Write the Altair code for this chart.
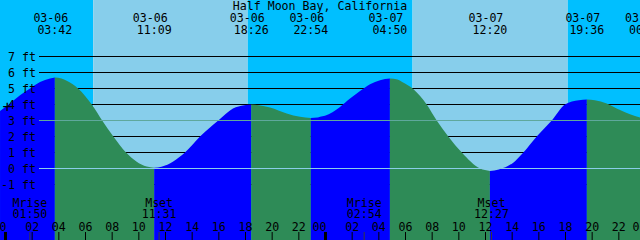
import altair as alt
import pandas as pd

TITLE = "Half Moon Bay, California"

# Tide extremes, hours counted from 03-06 00:00
ext_hours = [3.70, 11.15, 18.43, 22.90, 28.83, 36.33, 43.60, 48.08]
ext_feet = [5.69, 0.05, 4.00, 3.15, 5.62, -0.15, 4.31, 3.08]
ext_kind = ["high", "low", "high", "low", "high", "low", "high", "low"]
ext_dates = ["03-06", "03-06", "03-06", "03-06", "03-07", "03-07", "03-07", "03-08"]
ext_times = ["03:42", "11:09", "18:26", "22:54", "04:50", "12:20", "19:36", "00:05"]

# Tide height
curve_hours = [-0.41, 0.34, 1.09, 1.84, 2.59, 3.34, 4.20, 4.59, 5.44, 6.47, 7.25,
               8.09, 9.04, 10.59, 11.70, 13.46, 14.59, 15.96, 17.06, 17.90, 19.00,
               19.84, 21.09, 22.09, 23.40, 23.59, 23.96, 25.09, 25.84, 26.59, 27.34,
               28.09, 29.40, 29.75, 30.60, 31.59, 32.34, 33.21, 34.22, 35.59, 37.00,
               38.06, 38.84, 39.84, 40.97, 41.96, 43.00, 44.20, 45.09, 46.09, 47.59]
curve_feet = [3.60, 4.06, 4.58, 5.00, 5.40, 5.63, 5.63, 5.48, 5.00, 4.00, 3.00,
              2.00, 1.00, 0.12, 0.11, 1.00, 2.00, 3.00, 3.75, 3.96, 3.96,
              3.81, 3.44, 3.23, 3.18, 3.23, 3.30, 3.85, 4.37, 4.85, 5.27,
              5.52, 5.56, 5.41, 4.95, 4.00, 3.00, 2.00, 1.00, 0.00, -0.06,
              0.35, 1.00, 2.00, 3.00, 4.00, 4.27, 4.27, 4.06, 3.65, 3.18]

# Sunrise / sunset (hours)
sun_hours = [6.58, 18.17, 30.53, 42.17]
sky_kinds = ["night", "day", "night", "day", "night"]

# Moon events
moon_hours = [1.83, 11.52, 26.90, 36.45]
moon_events = ["Mrise", "Mset", "Mrise", "Mset"]
moon_times = ["01:50", "11:31", "02:54", "12:27"]

grid_feet = [7, 6, 5, 4, 3, 2, 1, 0, -1]
grid_labels = ["7 ft", "6 ft", "5 ft", "4 ft", "3 ft", "2 ft", "1 ft", "0 ft", "-1 ft"]
msl_feet = [3]
datum_feet = [0]

hour_ticks = list(range(0, 49, 2))
hour_labels = ["%02d" % (h % 24) for h in hour_ticks]

X_DOMAIN = [-0.4125, 47.5875]
Y_DOMAIN = [-4.46875, 10.53125]

FONT = "DejaVu Sans Mono"
FS = 11.6

# ---- tables ----
rows = []
for h, f in sorted(zip(curve_hours, curve_feet)):
    seg = sum(1 for e in ext_hours if e < h)
    rows.append(dict(hour=h, feet=f, seg=seg))
for k, (h, f) in enumerate(zip(ext_hours, ext_feet)):
    rows.append(dict(hour=h, feet=f, seg=k))
    rows.append(dict(hour=h, feet=f, seg=k + 1))
tide = pd.DataFrame(rows)
counts = tide.groupby("seg")["hour"].transform("count")
tide = tide[counts > 1].copy()
tide["kind"] = tide["seg"].map(
    lambda i: "flood" if i < len(ext_kind) and ext_kind[i] == "high" else "ebb")
tide = tide.sort_values(["seg", "hour"])

edges = [X_DOMAIN[0]] + sun_hours + [X_DOMAIN[1]]
sky = pd.DataFrame({"start": edges[:-1], "end": edges[1:], "kind": sky_kinds})

grid = pd.DataFrame({"feet": [g for g in grid_feet if g not in msl_feet + datum_feet]})
ylab = pd.DataFrame({"feet": grid_feet, "label": grid_labels})
ext = pd.DataFrame({"hour": ext_hours, "date": ext_dates, "time": ext_times})
moon = pd.DataFrame({"hour": moon_hours, "event": moon_events, "time": moon_times})
ticks = pd.DataFrame({"hour": hour_ticks, "label": hour_labels})
ticks["midnight"] = ticks["hour"] % 24 == 0

xs = alt.Scale(domain=X_DOMAIN, nice=False, zero=False)
ys = alt.Scale(domain=Y_DOMAIN, nice=False, zero=False)
cscale = alt.Scale(domain=["day", "night", "flood", "ebb"],
                   range=["#87CEEB", "#00BFFF", "#0000FF", "#2E8B57"])


def X(f):
    return alt.X(f, type="quantitative", scale=xs, axis=None)


def Y(f):
    return alt.Y(f, type="quantitative", scale=ys, axis=None, stack=None)


sky_layer = alt.Chart(sky).mark_rect().encode(
    x=X("start"), x2="end", y=alt.value(0), y2=alt.value(240),
    color=alt.Color("kind:N", scale=cscale, legend=None))

grid_layer = alt.Chart(grid).mark_rule(color="black", strokeWidth=1).encode(
    y=Y("feet"), x=alt.value(39), x2=alt.value(640))

tide_layer = alt.Chart(tide).mark_area(interpolate="monotone", clip=True).encode(
    x=X("hour"), y=Y("feet"), y2=alt.value(240), detail="seg:N",
    color=alt.Color("kind:N", scale=cscale, legend=None))

msl_layer = alt.Chart(pd.DataFrame({"feet": msl_feet})).mark_rule(
    color="#5FA89C", strokeWidth=1).encode(y=Y("feet"), x=alt.value(39), x2=alt.value(640))
datum_layer = alt.Chart(pd.DataFrame({"feet": datum_feet})).mark_rule(
    color="#8ACDE9", strokeWidth=1).encode(y=Y("feet"), x=alt.value(39), x2=alt.value(640))

tick_layer = alt.Chart(ticks).mark_rule(color="black").encode(
    x=X("hour"), y=alt.value(232), y2=alt.value(240),
    strokeWidth=alt.condition("datum.midnight", alt.value(3), alt.value(1)))

moon_tick_layer = alt.Chart(moon).mark_rule(color="#3a3a3a", strokeWidth=1).encode(
    x=X("hour"), y=alt.value(232), y2=alt.value(240))

txt = dict(font=FONT, fontSize=FS, color="black", baseline="alphabetic")

title_layer = alt.Chart(pd.DataFrame({"t": [TITLE]})).mark_text(align="center", **txt).encode(
    text="t:N", x=alt.value(320), y=alt.value(10))

date_layer = alt.Chart(ext).mark_text(align="center", dx=-4, **txt).encode(
    x=X("hour"), y=alt.value(22), text="date:N")
time_layer = alt.Chart(ext).mark_text(align="center", **txt).encode(
    x=X("hour"), y=alt.value(33.5), text="time:N")

ylab_layer = alt.Chart(ylab).mark_text(align="right", dy=4, **txt).encode(
    y=Y("feet"), x=alt.value(36), text="label:N")

moon_ev_layer = alt.Chart(moon).mark_text(align="center", **txt).encode(
    x=X("hour"), y=alt.value(206.5), text="event:N")
moon_time_layer = alt.Chart(moon).mark_text(align="center", **txt).encode(
    x=X("hour"), y=alt.value(218), text="time:N")

hour_lab_layer = alt.Chart(ticks[~ticks["midnight"]]).mark_text(align="center", **txt).encode(
    x=X("hour"), y=alt.value(230.5), text="label:N")
mid_lab_layer = alt.Chart(ticks[ticks["midnight"]]).mark_text(align="center", dx=-6, **txt).encode(
    x=X("hour"), y=alt.value(230.5), text="label:N")

plus_layer = alt.Chart(pd.DataFrame({"t": ["+"]})).mark_text(
    align="center", baseline="middle", font=FONT, fontSize=16, color="black").encode(
    text="t:N", x=alt.value(7.3), y=alt.value(106.7))

chart = alt.layer(
    sky_layer, grid_layer, tide_layer, msl_layer, datum_layer,
    tick_layer, moon_tick_layer,
    title_layer, date_layer, time_layer, ylab_layer,
    moon_ev_layer, moon_time_layer, hour_lab_layer, mid_lab_layer, plus_layer,
).properties(width=640, height=240, padding=0, autosize="none").configure_view(stroke=None)

chart.save("out.html", embed_options={"renderer": "svg", "actions": False})
